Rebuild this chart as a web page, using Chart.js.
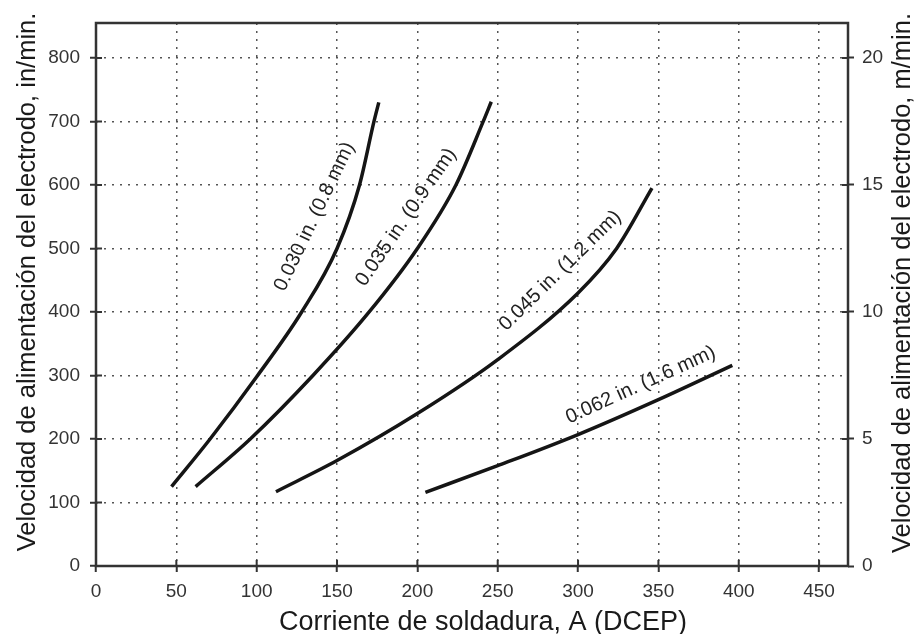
<!DOCTYPE html>
<html>
<head>
<meta charset="utf-8">
<script src="https://cdn.jsdelivr.net/npm/chart.js@4.4.1/dist/chart.umd.min.js"></script>
<style>
  html, body { margin: 0; padding: 0; background: #fff; }
</style>
</head>
<body>
<canvas id="chartWire" width="914" height="634"></canvas>
<script>
// tick values
const xTicks = [0, 50, 100, 150, 200, 250, 300, 350, 400, 450];
const yTicks = [0, 100, 200, 300, 400, 500, 600, 700, 800];
const y2Ticks = [0, 5, 10, 15, 20];

// curves: [current A, feed in/min]
const wire030 = [[47, 125], [71, 200], [100, 298], [128, 400], [150, 500], [164, 600], [173, 700], [176, 730]];
const wire035 = [[62, 125], [96, 200], [135, 300], [170, 400], [200, 500], [224, 600], [241, 700], [246, 731]];
const wire045 = [[112, 117], [150, 166], [200, 240], [250, 325], [300, 430], [324, 500], [346, 595]];
const wire062 = [[205, 116], [250, 158], [300, 207], [350, 262], [396, 316]];

const curveNames = ['0.030 in. (0.8 mm)', '0.035 in. (0.9 mm)', '0.045 in. (1.2 mm)', '0.062 in. (1.6 mm)'];
// where the curve labels sit (data units) and their slant
const labelPos = [[136, 550], [193, 549], [289, 465], [339, 285]];
const labelAngle = [-64.5, -55.5, -44.5, -24.5];

const xTitle = 'Corriente de soldadura, A (DCEP)';
const yTitle = 'Velocidad de alimentación del electrodo, in/min.';
const y2Title = 'Velocidad de alimentación del electrodo, m/min.';

const FONT = '"Liberation Sans", Arial, Helvetica, sans-serif';
const yMax = 855;
const inPerM = 40; // right axis: 20 m/min lines up with 800 in/min

function toPts(arr) { return arr.map(p => ({ x: p[0], y: p[1] })); }

function vText(ctx, text, x, y) {
  ctx.save();
  ctx.translate(x, y);
  ctx.rotate(-Math.PI / 2);
  ctx.fillText(text, 0, 0);
  ctx.restore();
}

const extras = {
  id: 'extras',
  afterDraw(chart) {
    const { ctx, chartArea: a, scales } = chart;
    const x = scales.x, y = scales.y, y2 = scales.y2;
    ctx.save();
    // frame
    ctx.strokeStyle = '#333';
    ctx.lineWidth = 2.5;
    ctx.strokeRect(a.left, a.top, a.right - a.left, a.bottom - a.top);
    // inward tick marks
    ctx.lineWidth = 2;
    ctx.beginPath();
    xTicks.forEach(v => { const px = x.getPixelForValue(v); ctx.moveTo(px, a.bottom); ctx.lineTo(px, a.bottom - 6); });
    yTicks.forEach(v => { const py = y.getPixelForValue(v); ctx.moveTo(a.left, py); ctx.lineTo(a.left + 6, py); });
    y2Ticks.forEach(v => { const py = y2.getPixelForValue(v); ctx.moveTo(a.right, py); ctx.lineTo(a.right - 6, py); });
    ctx.stroke();
    // curve labels
    ctx.fillStyle = '#222';
    ctx.font = '20px ' + FONT;
    ctx.textAlign = 'center';
    ctx.textBaseline = 'middle';
    curveNames.forEach((t, i) => {
      ctx.save();
      ctx.translate(x.getPixelForValue(labelPos[i][0]), y.getPixelForValue(labelPos[i][1]));
      ctx.rotate(labelAngle[i] * Math.PI / 180);
      ctx.fillText(t, 0, 0);
      ctx.restore();
    });
    // axis titles
    ctx.fillStyle = '#1a1a1a';
    ctx.textBaseline = 'alphabetic';
    ctx.font = '27px ' + FONT;
    ctx.fillText(xTitle, 483, 630);
    ctx.font = '25.5px ' + FONT;
    vText(ctx, yTitle, 35, 282);
    vText(ctx, y2Title, 910, 283);
    ctx.restore();
  }
};

function lineSet(arr) {
  return {
    data: toPts(arr),
    borderColor: '#151515',
    borderWidth: 3.5,
    pointRadius: 0,
    fill: false,
    cubicInterpolationMode: 'monotone',
    yAxisID: 'y'
  };
}

const gridStyle = {
  color: '#555',
  lineWidth: 1.5,
  tickColor: '#333',
  tickWidth: 2,
  tickLength: 6,
  tickBorderDash: []
};
const dotted = { display: false, dash: [2, 6] };

new Chart(document.getElementById('chartWire').getContext('2d'), {
  type: 'line',
  data: { datasets: [lineSet(wire030), lineSet(wire035), lineSet(wire045), lineSet(wire062)] },
  options: {
    responsive: false,
    animation: false,
    devicePixelRatio: 1,
    layout: { padding: { top: 23, right: 0, left: 0, bottom: 0 } },
    plugins: { legend: { display: false }, tooltip: { enabled: false } },
    scales: {
      x: {
        type: 'linear',
        min: 0,
        max: 468,
        afterBuildTicks: s => { s.ticks = xTicks.map(v => ({ value: v })); },
        afterFit: s => { s.height = 68; },
        grid: gridStyle,
        border: dotted,
        ticks: { color: '#333', font: { family: FONT, size: 19 }, padding: 8, maxRotation: 0 }
      },
      y: {
        type: 'linear',
        position: 'left',
        min: 0,
        max: yMax,
        afterBuildTicks: s => { s.ticks = yTicks.map(v => ({ value: v })); },
        afterFit: s => { s.width = 96; },
        grid: gridStyle,
        border: dotted,
        ticks: { color: '#333', font: { family: FONT, size: 19 }, padding: 10 }
      },
      y2: {
        type: 'linear',
        position: 'right',
        min: 0,
        max: yMax / inPerM,
        afterBuildTicks: s => { s.ticks = y2Ticks.map(v => ({ value: v })); },
        afterFit: s => { s.width = 66; },
        grid: { drawOnChartArea: false, tickColor: '#333', tickWidth: 2, tickLength: 6 },
        border: { display: false },
        ticks: { color: '#333', font: { family: FONT, size: 19 }, padding: 8 }
      }
    }
  },
  plugins: [extras]
});
</script>
</body>
</html>
